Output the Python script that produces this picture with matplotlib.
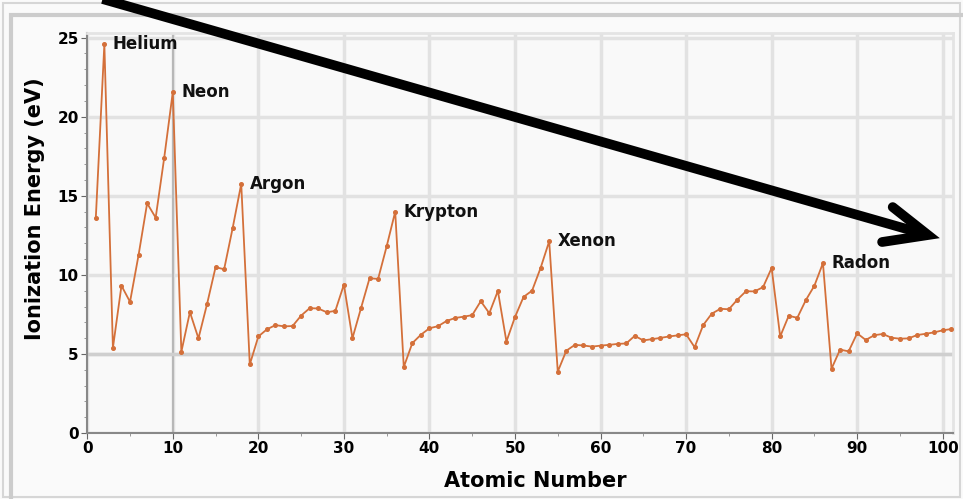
import matplotlib.pyplot as plt
from matplotlib.patches import Rectangle
from matplotlib.ticker import MultipleLocator

# first ionization energy (eV), Z = 1..102
atomic_number = list(range(1, 103))
energy = [
    13.60, 24.59, 5.39, 9.32, 8.30, 11.26, 14.53, 13.62, 17.42, 21.56,
    5.14, 7.65, 5.99, 8.15, 10.49, 10.36, 12.97, 15.76, 4.34, 6.11,
    6.56, 6.83, 6.75, 6.77, 7.43, 7.90, 7.88, 7.64, 7.73, 9.39,
    6.00, 7.90, 9.79, 9.75, 11.81, 14.00, 4.18, 5.69, 6.22, 6.63,
    6.76, 7.09, 7.28, 7.36, 7.46, 8.34, 7.58, 8.99, 5.79, 7.34,
    8.61, 9.01, 10.45, 12.13, 3.89, 5.21, 5.58, 5.54, 5.47, 5.53,
    5.58, 5.64, 5.67, 6.15, 5.86, 5.94, 6.02, 6.11, 6.18, 6.25,
    5.43, 6.83, 7.55, 7.86, 7.83, 8.44, 8.97, 8.96, 9.23, 10.44,
    6.11, 7.42, 7.29, 8.41, 9.32, 10.75, 4.07, 5.28, 5.17, 6.31,
    5.89, 6.19, 6.27, 6.03, 5.97, 5.99, 6.20, 6.28, 6.37, 6.50,
    6.58, 6.65,
]
noble_z = [2, 10, 18, 36, 54, 86]
noble_names = ["Helium", "Neon", "Argon", "Krypton", "Xenon", "Radon"]

line_color = "#d4703a"

fig = plt.figure(figsize=(9.63, 4.99), dpi=100, facecolor="#fafafa")

# outer panel frames
fig.patches.append(Rectangle((0.003, 0.004), 0.994, 0.99, transform=fig.transFigure,
                             fill=False, edgecolor="#d6d6d6", linewidth=1.5))
fig.patches.append(Rectangle((0.0115, -0.01), 0.99, 0.98, transform=fig.transFigure,
                             fill=False, edgecolor="#cccccc", linewidth=3))

ax = fig.add_axes([0.0906, 0.132, 0.899, 0.802])
ax.set_facecolor("#f9f9f9")

ax.plot(atomic_number, energy, color=line_color, linewidth=1.3,
        marker="o", markersize=2.6, zorder=3)

for z, name in zip(noble_z, noble_names):
    ax.annotate(name, (z, energy[z - 1]), xytext=(6, 0), textcoords="offset points",
                ha="left", va="center", fontsize=12, fontweight="bold", color="#111111")

ax.set_xlim(0, 101.2)
ax.set_ylim(0, 25.3)
ax.xaxis.set_major_locator(MultipleLocator(10))
ax.xaxis.set_minor_locator(MultipleLocator(5))
ax.yaxis.set_major_locator(MultipleLocator(5))
ax.yaxis.set_minor_locator(MultipleLocator(1))

ax.grid(True, which="major", color="#e2e2e2", linewidth=2.5, zorder=0)
ax.axvline(10, color="#b8b8b8", linewidth=1.5, zorder=1)
ax.axhline(5, color="#cfcfcf", linewidth=2.5, zorder=1)
ax.set_axisbelow(True)

for side in ["top", "right"]:
    ax.spines[side].set_color("#e4e4e4")
    ax.spines[side].set_linewidth(2)
for side in ["left", "bottom"]:
    ax.spines[side].set_color("#888888")
    ax.spines[side].set_linewidth(1.5)

ax.tick_params(which="major", length=4, color="#666666", labelsize=11, pad=2)
ax.tick_params(which="minor", length=2.5, color="#888888")
for lbl in ax.get_xticklabels() + ax.get_yticklabels():
    lbl.set_fontweight("bold")

ax.set_xlabel("Atomic Number", fontsize=15, fontweight="bold")
ax.set_ylabel("Ionization Energy (eV)", fontsize=15, fontweight="bold")
ax.xaxis.set_label_coords(0.518, -0.095)
ax.yaxis.set_label_coords(-0.049, 0.56)

# black arrow drawn over the picture
tip = (0.9637, 0.529)
fig.add_artist(plt.Line2D([0.092, tip[0] - 0.004], [1.01, tip[1] + 0.002],
                          transform=fig.transFigure, color="black", linewidth=7,
                          solid_capstyle="butt"))
fig.add_artist(plt.Line2D([0.927, tip[0], 0.916], [0.585, tip[1], 0.515],
                          transform=fig.transFigure, color="black", linewidth=7,
                          solid_joinstyle="miter", solid_capstyle="round"))

fig.savefig("out.png", dpi=100, facecolor=fig.get_facecolor())
